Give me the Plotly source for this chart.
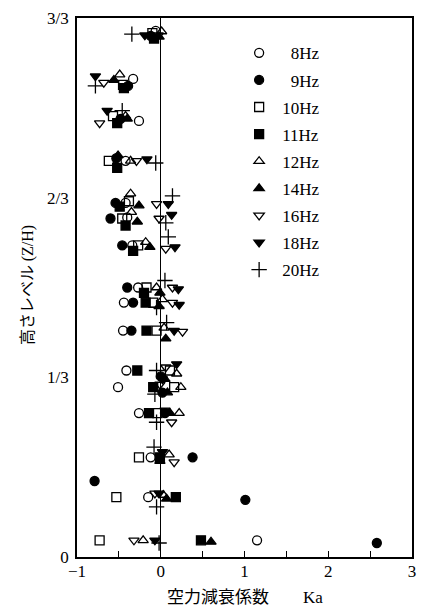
import plotly.graph_objects as go

# Aerodynamic damping coefficient Ka vs. height level Z/H, per excitation frequency
freq_labels = ["\u20078Hz", "\u20079Hz", "10Hz", "11Hz", "12Hz", "14Hz", "16Hz", "18Hz", "20Hz"]

ka_8 = [-0.06, -0.33, -0.26, -0.42, -0.42, -0.40, -0.34, -0.27, -0.44, -0.45, -0.41, -0.51, -0.26, -0.12, -0.15, 1.15]
zh_8 = [0.976, 0.887, 0.809, 0.735, 0.657, 0.630, 0.578, 0.500, 0.472, 0.420, 0.346, 0.315, 0.267, 0.185, 0.111, 0.031]

ka_9 = [-0.12, -0.39, -0.48, -0.53, -0.54, -0.60, -0.46, -0.40, -0.33, -0.35, 0.00, 0.02, 0.05, 0.38, -0.79, 1.01, 2.58]
zh_9 = [0.967, 0.874, 0.813, 0.740, 0.657, 0.628, 0.578, 0.500, 0.472, 0.420, 0.335, 0.305, 0.267, 0.185, 0.141, 0.106, 0.026]

ka_10 = [-0.10, -0.45, -0.57, -0.62, -0.38, -0.46, -0.27, -0.17, -0.09, -0.05, 0.11, 0.16, -0.04, -0.26, -0.53, -0.73]
zh_10 = [0.972, 0.876, 0.818, 0.735, 0.660, 0.628, 0.578, 0.500, 0.472, 0.420, 0.346, 0.315, 0.267, 0.185, 0.111, 0.031]

ka_11 = [-0.08, -0.44, -0.52, -0.52, -0.49, -0.42, -0.33, -0.20, -0.18, -0.17, -0.28, -0.09, -0.14, -0.01, 0.18, 0.48]
zh_11 = [0.962, 0.870, 0.805, 0.722, 0.650, 0.615, 0.568, 0.490, 0.472, 0.420, 0.346, 0.315, 0.267, 0.185, 0.111, 0.031]

ka_12 = [0.01, -0.49, -0.42, -0.36, -0.36, -0.35, -0.18, -0.05, 0.02, 0.04, 0.19, 0.24, 0.22, 0.10, 0.03, -0.21]
zh_12 = [0.975, 0.895, 0.818, 0.735, 0.674, 0.640, 0.584, 0.500, 0.478, 0.425, 0.340, 0.315, 0.267, 0.190, 0.115, 0.031]

ka_14 = [-0.02, -0.56, -0.40, -0.51, -0.26, -0.28, -0.13, -0.01, -0.02, 0.06, 0.05, 0.08, 0.11, -0.01, 0.07, 0.60]
zh_14 = [0.965, 0.885, 0.813, 0.745, 0.652, 0.622, 0.575, 0.490, 0.465, 0.405, 0.330, 0.305, 0.267, 0.178, 0.108, 0.028]

ka_16 = [-0.03, -0.68, -0.73, -0.29, -0.05, -0.02, 0.06, 0.14, 0.14, 0.26, 0.06, -0.01, 0.13, 0.16, -0.07, -0.32]
zh_16 = [0.968, 0.880, 0.805, 0.735, 0.655, 0.628, 0.572, 0.500, 0.472, 0.418, 0.352, 0.320, 0.250, 0.176, 0.118, 0.031]

ka_18 = [-0.19, -0.78, -0.64, -0.165, 0.09, 0.13, 0.17, 0.21, 0.22, 0.16, 0.19, 0.02, 0.05, 0.02, -0.02, -0.07]
zh_18 = [0.968, 0.892, 0.828, 0.738, 0.655, 0.635, 0.575, 0.497, 0.468, 0.420, 0.358, 0.330, 0.272, 0.195, 0.118, 0.031]

ka_20 = [-0.345, -0.78, -0.46, -0.06, 0.14, 0.06, 0.09, 0.05, -0.05, 0.07, -0.05, -0.07, -0.05, -0.08, -0.05, -0.02]
zh_20 = [0.970, 0.874, 0.828, 0.731, 0.670, 0.620, 0.594, 0.513, 0.463, 0.435, 0.346, 0.302, 0.250, 0.204, 0.093, 0.026]

x_ticks = [-1, 0, 1, 2, 3]
y_ticks = [0, 1 / 3, 2 / 3, 1]
y_tick_text = ["0", "1/3", "2/3", "3/3"]

series = [
    (ka_8, zh_8, "circle-open"),
    (ka_9, zh_9, "circle"),
    (ka_10, zh_10, "square-open"),
    (ka_11, zh_11, "square"),
    (ka_12, zh_12, "triangle-up-open"),
    (ka_14, zh_14, "triangle-up"),
    (ka_16, zh_16, "triangle-down-open"),
    (ka_18, zh_18, "triangle-down"),
    (ka_20, zh_20, "cross-thin-open"),
]

SERIF = "Liberation Serif, Times New Roman, serif"
CJK = "Noto Sans CJK JP, sans-serif"

fig = go.Figure()
for (xs, zs, sym), name in zip(series, freq_labels):
    size = 9 if "cross" not in sym else 11
    fig.add_trace(go.Scatter(
        x=xs, y=zs, mode="markers", name=name, legendgroup=name,
        marker=dict(symbol=sym, size=size, color="black",
                    line=dict(color="black", width=1.3)),
    ))

fig.update_layout(
    width=425, height=607,
    margin=dict(l=77, r=9, t=17, b=50),
    paper_bgcolor="white", plot_bgcolor="white",
    font=dict(family=SERIF, size=17, color="black"),
    showlegend=True,
    legend=dict(
        x=0.475, y=0.968, xanchor="left", yanchor="top",
        bgcolor="rgba(0,0,0,0)", borderwidth=0,
        font=dict(family=SERIF, size=17, color="black"),
        tracegroupgap=2, itemwidth=36,
    ),
    xaxis=dict(
        range=[-1, 3], tickvals=x_ticks, ticktext=[str(v).replace("-", "\u2212") for v in x_ticks],
        showgrid=False, showline=True, linecolor="black", linewidth=1.5, mirror=True,
        ticks="inside", ticklen=6, tickcolor="black", tickwidth=1, ticklabelstandoff=-2,
        minor=dict(dtick=0.5, tick0=0, ticks="inside", ticklen=6, tickcolor="black", tickwidth=1, showgrid=False),
        zeroline=True, zerolinecolor="black", zerolinewidth=1.2,
        tickfont=dict(family=SERIF, size=17),
    ),
    yaxis=dict(
        range=[0, 1], tickvals=y_ticks, ticktext=y_tick_text,
        showgrid=False, showline=True, linecolor="black", linewidth=1.5, mirror=True,
        ticks="", zeroline=False, ticklabelstandoff=3,
        tickfont=dict(family=SERIF, size=17),
    ),
    annotations=[
        dict(
            text=("<span style=\"font-family:Noto Sans CJK JP\">空力減衰係数</span>"
                  "\u3000\u3000<span style=\"font-family:Liberation Serif\">Ka</span>"),
            xref="paper", yref="paper", x=0.5, y=-0.071, xanchor="center", yanchor="middle",
            showarrow=False, font=dict(size=17, color="black", family=CJK),
        ),
        dict(
            text=("<span style=\"font-family:Noto Sans CJK JP\">高さレベル</span>"
                  " <span style=\"font-family:Liberation Serif\">(Z/H)</span>"),
            xref="paper", yref="paper", x=-0.152, y=0.505, xanchor="center", yanchor="middle",
            textangle=-90, showarrow=False, font=dict(size=16, color="black", family=CJK),
        ),
    ],
)

fig.write_html("out.html")
